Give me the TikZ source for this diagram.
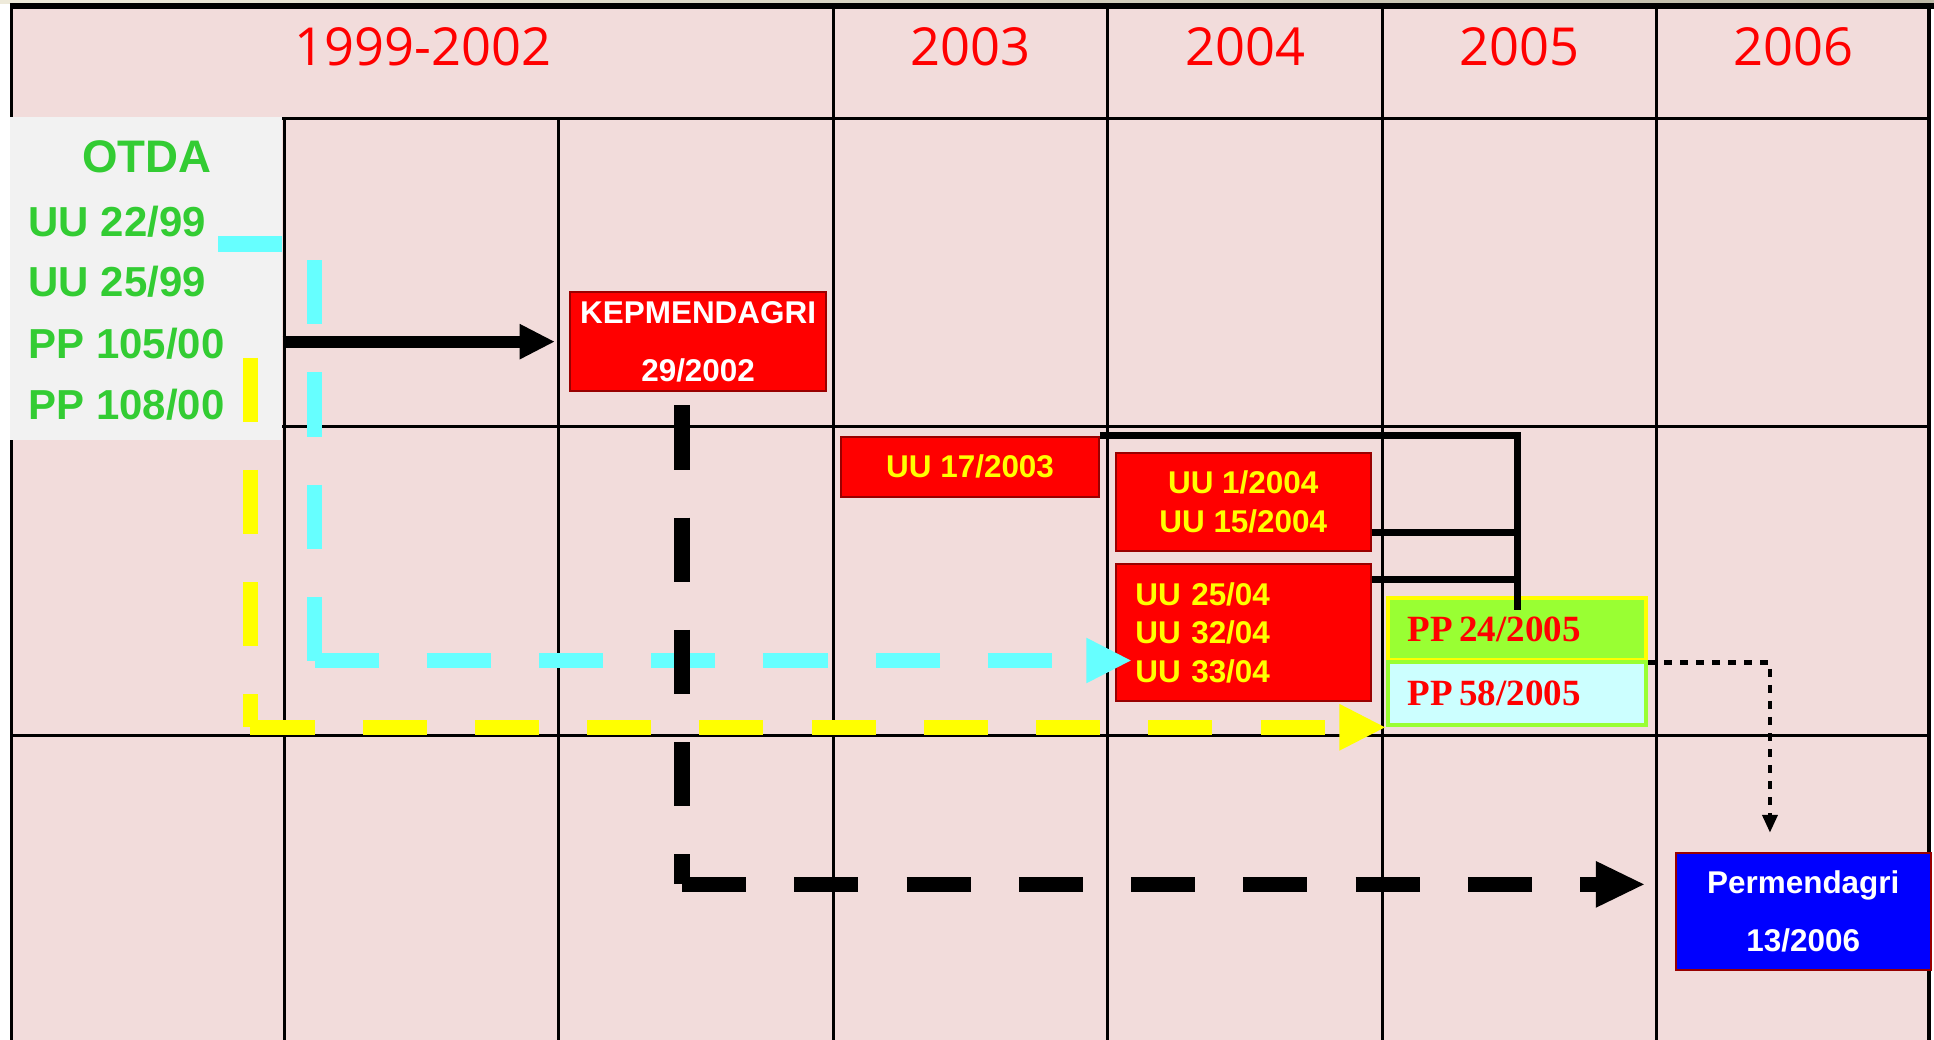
\documentclass[tikz,border=0pt]{standalone}
\usepackage{fontspec}
\setmainfont{Liberation Sans}
\newfontfamily\yearfont{Open Sans}
\newfontfamily\ppserif{Liberation Serif}
\usetikzlibrary{arrows.meta,calc}

\definecolor{pinkbg}{HTML}{F2DCDB}
\definecolor{otdagray}{HTML}{F2F2F2}
\definecolor{otdagreen}{HTML}{33CC33}
\definecolor{boxred}{HTML}{FF0000}
\definecolor{boxborder}{HTML}{990000}
\definecolor{cyanline}{HTML}{66FFFF}
\definecolor{yel}{HTML}{FFFF00}
\definecolor{ppgreen}{HTML}{99FF33}
\definecolor{ppcyan}{HTML}{CCFFFF}
\definecolor{permblue}{HTML}{0000FF}
\definecolor{stripL}{HTML}{EEEADA}
\definecolor{stripR}{HTML}{BDB9A6}

\tikzset{
  gridline/.style={line width=2.4pt, black},
  yearlbl/.style={anchor=base, inner sep=0pt, text=red, font=\yearfont\fontsize{42.5}{50}\selectfont},
  greenhead/.style={anchor=base, inner sep=0pt, text=otdagreen, font=\bfseries\fontsize{37}{44}\selectfont},
  greentxt/.style={anchor=base west, inner sep=0pt, text=otdagreen, font=\bfseries\fontsize{34}{40}\selectfont},
  redbox/.style={draw=boxborder, line width=1.5pt, fill=boxred, text=yel, inner sep=0pt, align=center,
                 font=\bfseries\fontsize{25.5}{31}\selectfont},
  widebox/.style={font=\bfseries\fontsize{25.5}{46.5}\selectfont},
  ppbox/.style={line width=3.3pt, minimum height=51pt, text width=177pt, inner xsep=16pt, inner ysep=0pt,
                align=left, text=red, font=\ppserif\bfseries\fontsize{30}{36}\selectfont},
  solidarrow/.style={line width=9.5pt, -{Triangle[length=28pt,width=29pt,line width=0pt]}},
  cyanarrow/.style={draw=cyanline, line width=12.7pt, dash pattern=on 52pt off 39pt,
                    -{Triangle[length=36pt,width=37pt,line width=0pt]}},
  yelarrow/.style={draw=yel, line width=12.5pt, dash pattern=on 52pt off 39pt,
                   -{Triangle[length=37pt,width=38pt,line width=0pt]}},
  blkdasharrow/.style={draw=black, line width=12.4pt, dash pattern=on 52pt off 39pt,
                       -{Triangle[length=39pt,width=38pt,line width=0pt]}},
  dotarrow/.style={draw=black, line width=4pt, dash pattern=on 6.5pt off 6.5pt,
                   -{Triangle[length=14pt,width=13pt,line width=0pt]}},
  conn/.style={draw=black, line width=5.5pt}
}

\begin{document}
\begin{tikzpicture}[x=1pt,y=-1pt]
\useasboundingbox (0,0) rectangle (1568,843);
\fill[white] (0,0) rectangle (1568,843);
\shade[left color=stripL,right color=stripR] (0,0) rectangle (1568,3);
\fill[pinkbg] (9,5) rectangle (1564,843);

% grid
\draw[gridline] (9,96) -- (1564,96);
\draw[gridline] (9,346) -- (1564,346);
\draw[gridline] (9,596) -- (1564,596);
\draw[gridline] (231,96) -- (231,843);
\draw[gridline] (453,96) -- (453,843);
\draw[gridline] (676,5) -- (676,843);
\draw[gridline] (898,5) -- (898,843);
\draw[gridline] (1121,5) -- (1121,843);
\draw[gridline] (1343,5) -- (1343,843);
\draw[line width=2.6pt] (9.6,5) -- (9.6,843);
\draw[line width=2.6pt] (1564,5) -- (1564,843);
\draw[line width=5pt] (8,5.2) -- (1568,5.2);

% year headers
\node[yearlbl] (h1) at (343,53) {1999-2002};
\node[yearlbl] (h2) at (787,53) {2003};
\node[yearlbl] (h3) at (1009.5,53) {2004};
\node[yearlbl] (h4) at (1232,53) {2005};
\node[yearlbl] (h5) at (1454,53) {2006};

% OTDA panel
\node[fill=otdagray, minimum width=221pt, minimum height=262pt, inner sep=0pt] (otda) at (118.5,226) {};
\node[greenhead] (t0) at (119,140) {OTDA};
\node[greentxt] (t1) at (23,191.4) {UU 22/99};
\node[greentxt] (t2) at (23,240.5) {UU 25/99};
\node[greentxt] (t3) at (23,290.5) {PP 105/00};
\node[greentxt] (t4) at (23,340) {PP 108/00};

% boxes
\node[redbox, widebox, text=white, minimum width=208pt, minimum height=80pt] (kep) at (566,277) {KEPMENDAGRI\\29/2002};
\node[redbox, minimum width=209pt, minimum height=49pt] (uu17) at (786.5,378.5) {UU 17/2003};
\node[redbox, minimum width=207pt, minimum height=80pt] (uu1) at (1008,407) {UU 1/2004\\UU 15/2004};
\node[redbox, minimum width=207pt, minimum height=111pt, text width=175pt, inner xsep=16pt, align=left] (uu25) at (1008,513) {UU 25/04\\UU 32/04\\UU 33/04};
\node[ppbox, draw=yel, fill=ppgreen] (pp1) at (1230,510) {PP\hspace{5pt}24/2005};
\node[ppbox, draw=ppgreen, fill=ppcyan] (pp2) at (1230,562.5) {PP\hspace{5pt}58/2005};
\node[redbox, widebox, fill=permblue, text=white, minimum width=207pt, minimum height=95pt] (perm) at (1462,739) {Permendagri\\13/2006};

% cyan dashed connector
\coordinate (cyS) at (177,198);
\coordinate (cyC) at (255,198);
\coordinate (cyE) at ([xshift=13pt,yshift=-22.5pt]uu25.west);
\draw[cyanarrow] (cyS) -- (cyC) -- (cyC |- cyE) (cyC |- cyE) -- (cyE);

% yellow dashed connector
\coordinate (yS) at (203,290);
\coordinate (yE) at ([xshift=-1pt]pp2.south west);
\draw[yelarrow] (yS) -- (yS |- yE) (yS |- yE) -- (yE);

% black dashed connector
\coordinate (bS) at ([xshift=-13pt,yshift=-11pt]kep.south);
\coordinate (bE) at ([xshift=-25pt,yshift=22pt]perm.west);
\draw[blkdasharrow] (bS) -- (bS |- bE) (bS |- bE) -- (bE);

% solid arrow OTDA -> KEPMENDAGRI
\draw[solidarrow] (otda.east |- kep.west) -- ([xshift=-12pt]kep.west);

% solid connectors to PP
\draw[conn] (uu17.north east) -| ([yshift=-12pt]pp1.north);
\coordinate (c1) at ([yshift=-25pt]uu1.east);
\draw[conn] (c1) -- (c1 -| pp1.north);
\coordinate (c2) at ([yshift=-13pt]uu25.north east);
\draw[conn] (c2) -- (c2 -| pp1.north);

% dotted arrow
\coordinate (dE) at ([xshift=-27pt,yshift=16pt]perm.north);
\draw[dotarrow] (pp1.south east) -| (dE);
\end{tikzpicture}
\end{document}
